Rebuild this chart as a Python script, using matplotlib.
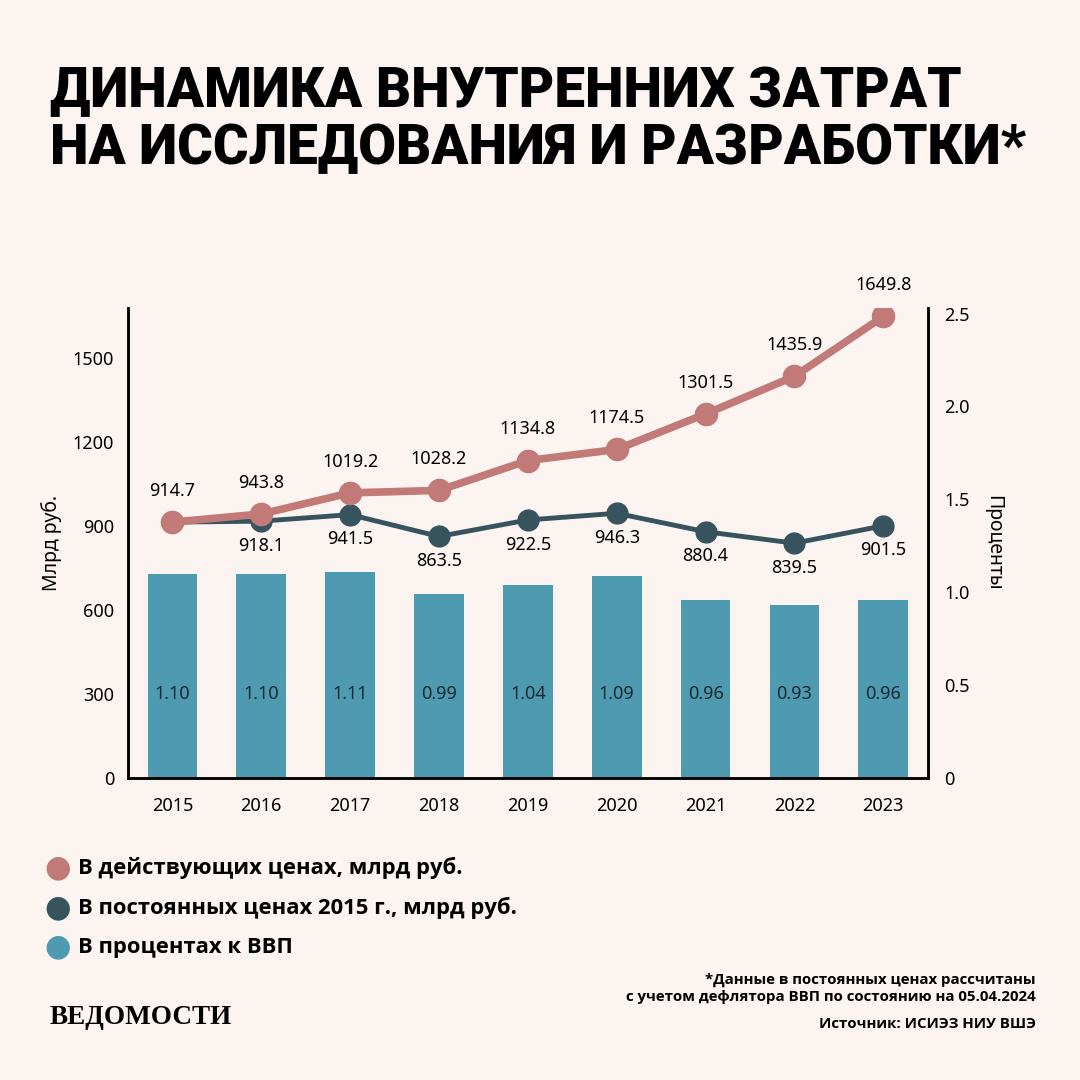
import matplotlib.pyplot as plt
import numpy as np

years = ['2015', '2016', '2017', '2018', '2019', '2020', '2021', '2022', '2023']
current_prices = [914.7, 943.8, 1019.2, 1028.2, 1134.8, 1174.5, 1301.5, 1435.9, 1649.8]
const_prices = [914.7, 918.1, 941.5, 863.5, 922.5, 946.3, 880.4, 839.5, 901.5]
gdp_share = [1.10, 1.10, 1.11, 0.99, 1.04, 1.09, 0.96, 0.93, 0.96]

bg = '#FCF4F0'
pink = '#C17A78'
dark = '#37535D'
blue = '#4E9AB0'

plt.rcParams['font.family'] = ['Noto Sans', 'DejaVu Sans']
bold_font = ['Open Sans', 'DejaVu Sans']

fig = plt.figure(figsize=(10.8, 10.8), dpi=100, facecolor=bg)

# заголовок
fig.text(0.046, 0.889, 'ДИНАМИКА ВНУТРЕННИХ ЗАТРАТ\nНА ИССЛЕДОВАНИЯ И РАЗРАБОТКИ*',
         fontsize=39.3, fontweight='heavy', family=['Roboto', 'DejaVu Sans'],
         va='center', ha='left', linespacing=1.1, color='black')

ax = fig.add_axes([0.1185, 0.2796, 0.7405, 0.4352])
ax.set_facecolor(bg)
ax2 = ax.twinx()
x = np.arange(len(years))

# столбцы - проценты к ВВП (правая ось)
ax2.bar(x, gdp_share, width=0.56, color=blue, zorder=1)
for xi, v in zip(x, gdp_share):
    ax2.text(xi, 0.45, f'{v:.2f}', ha='center', va='center', fontsize=13, color='#1B2B31')
ax2.set_ylim(0, 2.53)
ax2.set_yticks([0, 0.5, 1.0, 1.5, 2.0, 2.5])
ax2.set_yticklabels(['0', '0.5', '1.0', '1.5', '2.0', '2.5'])

# линии на левой оси - поверх столбцов
ax.set_zorder(ax2.get_zorder() + 1)
ax.patch.set_visible(False)
ax.plot(x, const_prices, color=dark, lw=3.5, marker='o', ms=15, zorder=3)
ax.plot(x, current_prices, color=pink, lw=5.5, marker='o', ms=16, zorder=4)
for xi, v in zip(x, current_prices):
    ax.text(xi, v + 112, f'{v:.1f}', ha='center', va='center', fontsize=13)
for xi, v in zip(x[1:], const_prices[1:]):
    ax.text(xi, v - 88, f'{v:.1f}', ha='center', va='center', fontsize=13)

ax.set_ylim(0, 1680)
ax.set_yticks([0, 300, 600, 900, 1200, 1500])
ax.set_xlim(-0.5, 8.5)
ax.set_xticks(x)
ax.set_xticklabels(years)

for a in (ax, ax2):
    a.spines['top'].set_visible(False)
    for s in ('left', 'right', 'bottom'):
        a.spines[s].set_linewidth(1.8)
    a.tick_params(length=0, labelsize=13, pad=10)
ax.tick_params(axis='x', pad=14)
ax2.tick_params(axis='y', pad=12)

ax.set_ylabel('Млрд руб.', fontsize=14, labelpad=8)
ax2.set_ylabel('Проценты', fontsize=14, rotation=-90, labelpad=24)

# легенда
legend = [('В действующих ценах, млрд руб.', pink),
          ('В постоянных ценах 2015 г., млрд руб.', dark),
          ('В процентах к ВВП', blue)]
for i, (lbl, c) in enumerate(legend):
    y = 0.196 - i * 0.0365
    fig.text(0.0535, y, '●', color=c, fontsize=22, ha='center', va='center',
             family=['DejaVu Sans'])
    fig.text(0.072, y, lbl, fontsize=15.8, fontweight='bold', family=bold_font,
             ha='left', va='center')

# сноска
fig.text(0.959, 0.085, '*Данные в постоянных ценах рассчитаны\nс учетом дефлятора ВВП по состоянию на 05.04.2024',
         fontsize=10.8, fontweight='bold', family=bold_font, ha='right', va='center', linespacing=1.25)
fig.text(0.959, 0.052, 'Источник: ИСИЭЗ НИУ ВШЭ', fontsize=10.8, fontweight='bold',
         family=bold_font, ha='right', va='center')

fig.text(0.046, 0.058, 'ВЕДОМОСТИ', fontsize=19.5, fontweight='bold',
         family=['Liberation Serif', 'DejaVu Serif'], ha='left', va='center')

fig.savefig('out.png', dpi=100, facecolor=bg)
